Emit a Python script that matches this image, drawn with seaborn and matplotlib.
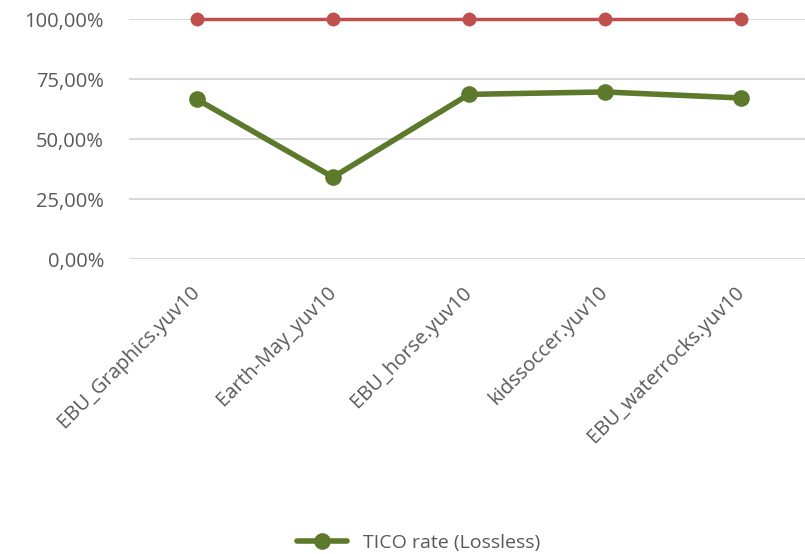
import matplotlib
matplotlib.use("Agg")
import matplotlib.pyplot as plt
import pandas as pd
import seaborn as sns
from matplotlib.ticker import FuncFormatter

SEQUENCES = ["EBU_Graphics.yuv10", "Earth-May_yuv10", "EBU_horse.yuv10", "kidssoccer.yuv10", "EBU_waterrocks.yuv10"]
TICO_RATE = [0.665, 0.341, 0.686, 0.696, 0.671]
REFERENCE = [1.0, 1.0, 1.0, 1.0, 1.0]

GREEN = "#5D7A2C"
RED = "#C0504D"
TEXT = "#595959"

sns.set_theme(style="white")
plt.rcParams["font.family"] = ["Open Sans", "DejaVu Sans"]

df = pd.DataFrame({"x": range(len(SEQUENCES)), "tico": TICO_RATE, "ref": REFERENCE})

fig = plt.figure(figsize=(8.05, 5.54), dpi=100)
ax = fig.add_axes([129 / 805, 295 / 554, 680 / 805, 240 / 554])

sns.lineplot(data=df, x="x", y="ref", ax=ax, color=RED, linewidth=2.5, marker="o",
             markersize=10, markeredgewidth=0, legend=False, clip_on=False)
sns.lineplot(data=df, x="x", y="tico", ax=ax, color=GREEN, linewidth=4, marker="o",
             markersize=12, markeredgewidth=0, label="TICO rate (Lossless)", clip_on=False)

ax.set_xlim(-0.5, len(SEQUENCES) - 0.5)
ax.set_ylim(0, 1)
ax.set_yticks([0, 0.25, 0.5, 0.75, 1.0])
ax.yaxis.set_major_formatter(FuncFormatter(lambda v, _: f"{v * 100:.2f}%".replace(".", ",")))
ax.grid(axis="y", color="#D9D9D9", linewidth=1.5)
ax.set_axisbelow(True)
for side in ax.spines.values():
    side.set_visible(False)

ax.set_xticks(range(len(SEQUENCES)))
ax.set_xticklabels(SEQUENCES, rotation=45, ha="right", va="center", rotation_mode="anchor")
ax.tick_params(axis="x", length=0, pad=22, labelsize=14.5, labelcolor=TEXT)
ax.tick_params(axis="y", length=0, pad=18, labelsize=14.5, labelcolor=TEXT)
ax.set_xlabel("")
ax.set_ylabel("")

leg = ax.legend(loc="center", bbox_to_anchor=(0.52, 0.02), bbox_transform=fig.transFigure,
                frameon=False, fontsize=14, handlelength=2.6)
for t in leg.get_texts():
    t.set_color(TEXT)

fig.savefig("out.png", dpi=100)
